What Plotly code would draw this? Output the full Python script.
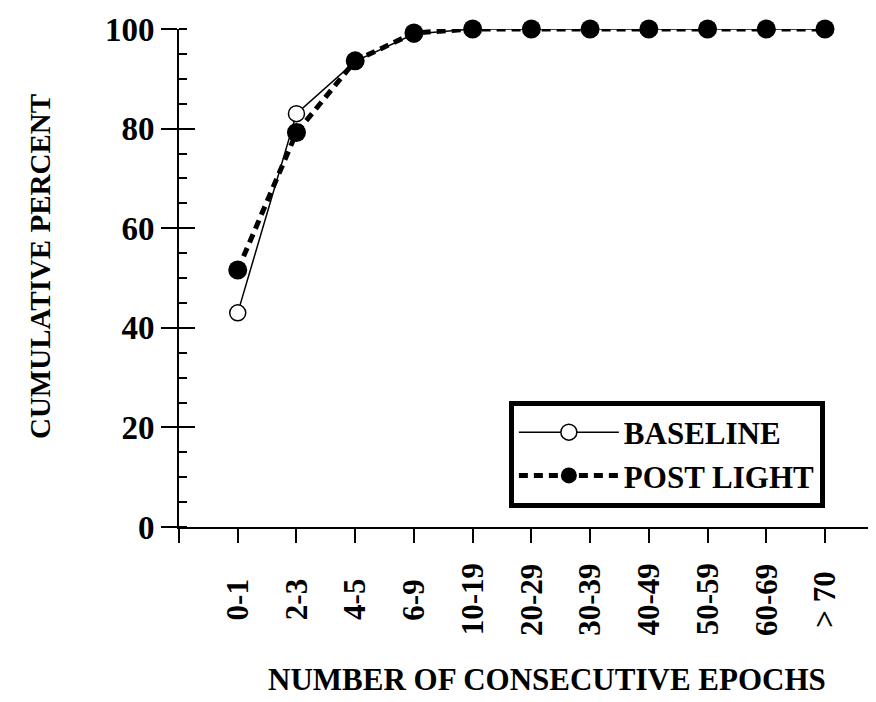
import plotly.graph_objects as go

categories = ["0-1", "2-3", "4-5", "6-9", "10-19", "20-29", "30-39", "40-49", "50-59", "60-69", "> 70"]
baseline = [43, 83, 93.5, 99, 100, 100, 100, 100, 100, 100, 100]
post_light = [51.6, 79.2, 93.6, 99.2, 100, 100, 100, 100, 100, 100, 100]
y_ticks = [0, 20, 40, 60, 80, 100]

FONT = "Liberation Serif"
xs = list(range(len(categories)))

fig = go.Figure()
fig.add_trace(go.Scatter(
    x=xs, y=baseline, name="BASELINE", mode="lines+markers",
    line=dict(color="black", width=1.5),
    marker=dict(symbol="circle", size=16, color="white", line=dict(color="black", width=1.5)),
    cliponaxis=False,
))
fig.add_trace(go.Scatter(
    x=xs, y=post_light, name="POST LIGHT", mode="lines+markers",
    line=dict(color="black", width=5, dash="9px,6px"),
    marker=dict(symbol="circle", size=19, color="black"),
    cliponaxis=False,
))

annotations = []
for i, c in enumerate(categories):
    annotations.append(dict(
        x=i, xref="x", y=-0.146, yref="paper", text=c, showarrow=False,
        textangle=-90, xanchor="center", yanchor="middle",
        font=dict(family=FONT, size=31, color="black", weight="bold"),
    ))
annotations.append(dict(
    x=0.531, xref="paper", y=-0.306, yref="paper", text="NUMBER OF CONSECUTIVE EPOCHS",
    showarrow=False, xanchor="center", yanchor="middle",
    font=dict(family=FONT, size=31, color="black", weight="bold"),
))
annotations.append(dict(
    x=-0.2006, xref="paper", y=0.524, yref="paper", text="CUMULATIVE PERCENT",
    showarrow=False, textangle=-90, xanchor="center", yanchor="middle",
    font=dict(family=FONT, size=29, color="black", weight="bold"),
))

fig.update_layout(
    width=868, height=694,
    margin=dict(l=171, r=4, t=19, b=175),
    plot_bgcolor="white", paper_bgcolor="white",
    showlegend=True,
    legend=dict(
        x=0.476, y=0.254, xanchor="left", yanchor="top",
        bordercolor="black", borderwidth=5, bgcolor="white",
        itemwidth=100,
        font=dict(family=FONT, size=31, color="black", weight="bold"),
    ),
    xaxis=dict(
        range=[-1, 10.8], tickmode="array", tickvals=[-1] + xs,
        showticklabels=False, ticks="outside", ticklen=14, tickwidth=2, tickcolor="black",
        showline=True, linecolor="black", linewidth=2, showgrid=False, zeroline=False,
    ),
    yaxis=dict(
        range=[0, 100], tickmode="array", tickvals=y_ticks,
        ticks="outside", ticklen=16, tickwidth=2, tickcolor="black",
        tickfont=dict(family=FONT, size=33, color="black", weight="bold"),
        showline=True, linecolor="black", linewidth=2, showgrid=False, zeroline=False,
        minor=dict(dtick=5, ticks="inside", ticklen=8, tickwidth=1.5, tickcolor="black"),
    ),
    yaxis2=dict(
        range=[0, 100], overlaying="y", side="left", tickmode="array", tickvals=y_ticks,
        ticks="inside", ticklen=16, tickwidth=2, tickcolor="black",
        showticklabels=False, showline=False, showgrid=False, zeroline=False,
    ),
    annotations=annotations,
)
fig.add_trace(go.Scatter(x=[None], y=[None], yaxis="y2", showlegend=False, hoverinfo="skip"))

fig.write_html("out.html")
